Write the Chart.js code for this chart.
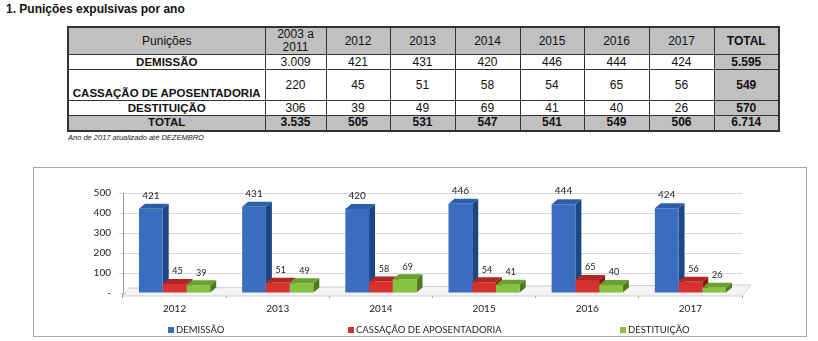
<!DOCTYPE html>
<html>
<head>
<meta charset="utf-8">
<script src="https://cdn.jsdelivr.net/npm/chart.js@4"></script>
<style>
  body { margin: 0; background: #fff; width: 818px; height: 341px; position: relative; overflow: hidden; font-family: "Liberation Sans", Arial, sans-serif; }
  #titulo { position: absolute; left: 6px; top: 2px; font-size: 12px; font-weight: bold; color: #111; }
  #tabela { position: absolute; left: 67px; top: 26px; width: 711px; border-collapse: collapse; table-layout: fixed; border: 2px solid #333; font-size: 12px; color: #111; }
  #tabela td, #tabela th { border: 1px solid #333; text-align: center; padding: 0; font-weight: normal; line-height: 13px; }
  #tabela th { background: #c0c0c0; }
  #tabela td.nome { font-weight: bold; font-size: 11.5px; }
  #tabela .cinza { background: #c0c0c0; font-weight: bold; }
  #nota { position: absolute; left: 68px; top: 133px; font-size: 7.5px; font-style: italic; color: #222; }
  #grafico { position: absolute; left: 33px; top: 167px; width: 774px; height: 170px; border: 1px solid #a6a6a6; box-sizing: border-box; }
  #legenda { position: absolute; left: 134px; top: 156px; display: flex; font-family: Lato, "Open Sans", sans-serif; font-size: 9.5px; color: #222; }
  #legenda div:nth-child(1) { width: 180px; }
  #legenda div:nth-child(2) { width: 272px; }
  #legenda span.box { display: inline-block; width: 6px; height: 6px; margin-right: 2px; }
</style>
</head>
<body>
<div id="titulo">1. Punições expulsivas por ano</div>
<table id="tabela"></table>
<div id="nota">Ano de 2017 atualizado até DEZEMBRO</div>
<div id="grafico"><canvas id="chart" width="772" height="168"></canvas><div id="legenda"></div></div>
<script>
// dados da tabela
const periodos = ['2003 a 2011', '2012', '2013', '2014', '2015', '2016', '2017'];
const punicoes = ['DEMISSÃO', 'CASSAÇÃO DE APOSENTADORIA', 'DESTITUIÇÃO'];
const demissao = [3009, 421, 431, 420, 446, 444, 424];
const cassacao = [220, 45, 51, 58, 54, 65, 56];
const destituicao = [306, 39, 49, 69, 41, 40, 26];
const totalLinhas = [5595, 549, 570];
const totalColunas = [3535, 505, 531, 547, 541, 549, 506];
const totalGeral = 6714;

// eixo y do grafico
const yTicks = [0, 100, 200, 300, 400, 500];
const yTickLabels = ['-', '100', '200', '300', '400', '500'];

const colWidths = [197, 61, 64, 65, 65, 64, 65, 65, 65];
const rowHeights = [27, 15, 31, 15, 15];

const fmt = (n) => String(n).replace(/\B(?=(\d{3})+(?!\d))/g, '.');

// monta a tabela
const buildTable = () => {
    const table = document.getElementById('tabela');
    let html = '<colgroup>' + colWidths.map(w => `<col style="width:${w}px">`).join('') + '</colgroup>';
    html += `<tr style="height:${rowHeights[0]}px"><th>Punições</th>`;
    periodos.forEach(p => {
        html += `<th>${p === '2003 a 2011' ? '2003 a<br>2011' : p}</th>`;
    });
    html += '<th style="font-weight:bold">TOTAL</th></tr>';
    const series = [demissao, cassacao, destituicao];
    series.forEach((vals, i) => {
        const va = i === 1 ? 'bottom' : 'middle';
        html += `<tr style="height:${rowHeights[i + 1]}px"><td class="nome" style="vertical-align:${va}">${punicoes[i]}</td>`;
        vals.forEach(v => { html += `<td>${fmt(v)}</td>`; });
        html += `<td class="cinza">${fmt(totalLinhas[i])}</td></tr>`;
    });
    html += `<tr style="height:${rowHeights[4]}px" class="cinza"><td class="nome cinza">TOTAL</td>`;
    totalColunas.forEach(v => { html += `<td class="cinza">${fmt(v)}</td>`; });
    html += `<td class="cinza">${fmt(totalGeral)}</td></tr>`;
    table.innerHTML = html;
};
buildTable();

// efeito 3D simples: faces lateral e superior + piso
const depth = { dx: 6, dy: 5 };
const sideColors = ['#1d4687', '#8a1a16', '#4c7a1c'];
const topColors = ['#2f5ea8', '#b02622', '#69a02e'];

const bar3d = {
    id: 'bar3d',
    beforeDatasetsDraw(chart) {
        const ctx = chart.ctx;
        const area = chart.chartArea;
        const { dx, dy } = depth;
        // piso
        ctx.save();
        ctx.fillStyle = '#f4f4f4';
        ctx.strokeStyle = '#d0d0d0';
        ctx.beginPath();
        ctx.moveTo(area.left, area.bottom + 3);
        ctx.lineTo(area.right, area.bottom + 3);
        ctx.lineTo(area.right + dx * 1.5, area.bottom - dy - 3);
        ctx.lineTo(area.left + dx, area.bottom - dy);
        ctx.closePath();
        ctx.fill();
        ctx.stroke();
        chart.data.datasets.forEach((ds, i) => {
            const meta = chart.getDatasetMeta(i);
            meta.data.forEach(el => {
                const { x, y, base, width } = el.getProps(['x', 'y', 'base', 'width'], true);
                const l = x - width / 2, r = x + width / 2;
                ctx.fillStyle = sideColors[i];
                ctx.beginPath();
                ctx.moveTo(r, y); ctx.lineTo(r + dx, y - dy);
                ctx.lineTo(r + dx, base - dy); ctx.lineTo(r, base);
                ctx.closePath(); ctx.fill();
                ctx.fillStyle = topColors[i];
                ctx.beginPath();
                ctx.moveTo(l, y); ctx.lineTo(l + dx, y - dy);
                ctx.lineTo(r + dx, y - dy); ctx.lineTo(r, y);
                ctx.closePath(); ctx.fill();
            });
        });
        ctx.restore();
    },
    afterDatasetsDraw(chart) {
        const ctx = chart.ctx;
        ctx.save();
        ctx.fillStyle = '#222';
        ctx.textAlign = 'center';
        ctx.textBaseline = 'bottom';
        chart.data.datasets.forEach((ds, i) => {
            ctx.font = (i === 0 ? '10px' : '9px') + ' Lato, "Open Sans", sans-serif';
            chart.getDatasetMeta(i).data.forEach((el, j) => {
                ctx.fillText(ds.data[j], el.x + (i === 0 ? 0 : 3), el.y - depth.dy - 3);
            });
        });
        ctx.restore();
    }
};

const anos = periodos.slice(1);

const chart = new Chart(document.getElementById('chart'), {
    type: 'bar',
    data: {
        labels: anos,
        datasets: [
            { label: 'DEMISSÃO', data: demissao.slice(1), backgroundColor: '#3a6dc0' },
            { label: 'CASSAÇÃO DE APOSENTADORIA', data: cassacao.slice(1), backgroundColor: '#d5322d' },
            { label: 'DESTITUIÇÃO', data: destituicao.slice(1), backgroundColor: '#85c242' }
        ]
    },
    options: {
        responsive: false,
        animation: false,
        categoryPercentage: 0.69,
        barPercentage: 1,
        layout: { padding: { left: 46, right: 64, top: 25, bottom: 16 } },
        plugins: {
            legend: { display: false },
            tooltip: { enabled: false }
        },
        scales: {
            x: {
                grid: { offset: true, drawOnChartArea: false, tickLength: 5, color: '#999' },
                border: { color: '#999' },
                ticks: { color: '#222', padding: 5, font: { size: 10, family: 'Lato, "Open Sans", sans-serif' } }
            },
            y: {
                min: 0, max: 500,
                afterBuildTicks: (s) => { s.ticks = yTicks.map(v => ({ value: v })); },
                afterFit: (s) => { s.width = 43; },
                grid: { color: '#d9d9d9', tickLength: 4 },
                border: { color: '#999' },
                ticks: {
                    color: '#222', padding: 8,
                    font: { size: 10, family: 'Lato, "Open Sans", sans-serif' },
                    callback: (v) => yTickLabels[yTicks.indexOf(v)]
                }
            }
        }
    },
    plugins: [bar3d]
});

// legenda em html, a partir dos datasets
const legenda = document.getElementById('legenda');
chart.data.datasets.forEach(ds => {
    const item = document.createElement('div');
    item.innerHTML = `<span class="box" style="background:${ds.backgroundColor}"></span>${ds.label}`;
    legenda.appendChild(item);
});
</script>
</body>
</html>
